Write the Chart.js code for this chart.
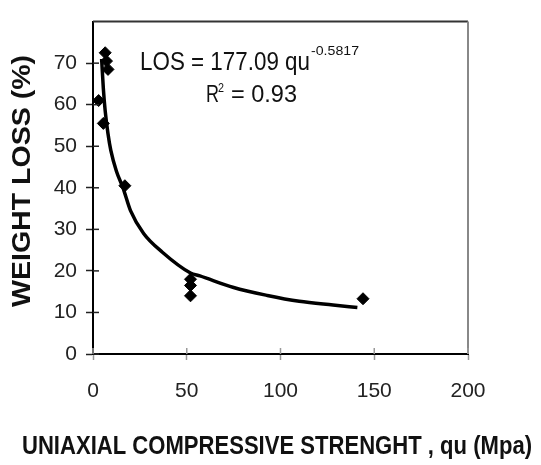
<!DOCTYPE html>
<html>
<head>
<meta charset="utf-8">
<script src="https://cdn.jsdelivr.net/npm/chart.js@4/dist/chart.umd.min.js"></script>
<style>
  html, body { margin: 0; padding: 0; background: #fff; }
</style>
</head>
<body>
<canvas id="c" width="541" height="465"></canvas>
<script>
// measured samples (qu in MPa, weight loss in %)
const qu   = [6.5, 7.2, 8.0, 3.0, 5.5, 17.0, 52.0, 52.0, 52.0, 144.0];
const loss = [72.5, 70.5, 68.5, 61.0, 55.5, 40.5, 18.0, 16.5, 14.0, 13.3];

// power trend line
const fitX = [4.6, 5.5, 6.5, 8.0, 9.5, 12.5, 16.0, 20.0, 27.0, 37.0, 52.0, 57.0, 75.0, 93.0, 110.0, 128.0, 141.0];
const fitY = [71.0, 64.0, 58.5, 53.0, 49.0, 44.0, 40.0, 34.5, 29.0, 24.5, 19.5, 18.8, 16.0, 14.1, 12.7, 11.8, 11.2];

const xTicks = [0, 50, 100, 150, 200];
const yTicks = [0, 10, 20, 30, 40, 50, 60, 70];

const eqMain = 'LOS = 177.09 qu';
const eqExp = '-0.5817';
const r2Text = '= 0.93';
const xTitle = 'UNIAXIAL COMPRESSIVE STRENGHT , qu (Mpa)';
const yTitle = 'WEIGHT LOSS (%)';

const FONT = '"Liberation Sans", Arial, sans-serif';

function points(xs, ys) {
  return xs.map((x, i) => ({ x: x, y: ys[i] }));
}

// draw text squeezed / stretched to a given width
function fitText(ctx, text, x, y, w, font) {
  ctx.font = font;
  const m = ctx.measureText(text).width;
  ctx.save();
  ctx.translate(x, y);
  ctx.scale(w / m, 1);
  ctx.textAlign = 'left';
  ctx.textBaseline = 'middle';
  ctx.fillText(text, 0, 0);
  ctx.restore();
}

const decor = {
  id: 'decor',
  afterDraw(chart) {
    const ctx = chart.ctx;
    const a = chart.chartArea;
    const xs = chart.scales.x, ys = chart.scales.y;
    ctx.save();
    // top and right frame
    ctx.lineWidth = 2;
    ctx.strokeStyle = '#333';
    ctx.beginPath(); ctx.moveTo(a.left, a.top); ctx.lineTo(a.right, a.top); ctx.stroke();
    ctx.strokeStyle = '#888';
    ctx.beginPath(); ctx.moveTo(a.right, a.top); ctx.lineTo(a.right, a.bottom); ctx.stroke();
    // inner half of the crossing ticks
    ctx.lineWidth = 1.5;
    ctx.strokeStyle = '#222';
    yTicks.forEach(v => {
      const p = ys.getPixelForValue(v);
      ctx.beginPath(); ctx.moveTo(a.left, p); ctx.lineTo(a.left + 6, p); ctx.stroke();
    });
    ctx.strokeStyle = '#999';
    xTicks.forEach(v => {
      const p = xs.getPixelForValue(v);
      ctx.beginPath(); ctx.moveTo(p, a.bottom); ctx.lineTo(p, a.bottom - 6); ctx.stroke();
    });

    ctx.fillStyle = '#111';
    // equation
    fitText(ctx, eqMain, 140, 63, 170, '25px ' + FONT);
    fitText(ctx, eqExp, 311, 51, 48, '13px ' + FONT);
    fitText(ctx, 'R', 206, 96, 13, '23px ' + FONT);
    fitText(ctx, '2', 218, 89, 6, '12px ' + FONT);
    fitText(ctx, r2Text, 231, 96, 66, '23px ' + FONT);

    // axis titles
    fitText(ctx, xTitle, 22, 447, 510, 'bold 26px ' + FONT);
    ctx.save();
    ctx.translate(23, 307);
    ctx.rotate(-Math.PI / 2);
    fitText(ctx, yTitle, 0, 0, 252, 'bold 25px ' + FONT);
    ctx.restore();
    ctx.restore();
  }
};

new Chart(document.getElementById('c'), {
  type: 'scatter',
  data: {
    datasets: [
      {
        label: 'samples',
        data: points(qu, loss),
        pointStyle: 'rectRot',
        pointRadius: 6,
        pointBackgroundColor: '#000',
        pointBorderColor: '#000',
        pointBorderWidth: 1
      },
      {
        label: 'fit',
        data: points(fitX, fitY),
        showLine: true,
        borderColor: '#000',
        borderWidth: 3.5,
        pointRadius: 0,
        cubicInterpolationMode: 'monotone'
      }
    ]
  },
  options: {
    responsive: false,
    animation: false,
    layout: { padding: { left: 0, top: 11, right: 73, bottom: 0 } },
    plugins: {
      legend: { display: false },
      tooltip: { enabled: false }
    },
    scales: {
      x: {
        type: 'linear',
        min: 0, max: 200,
        afterFit: s => { s.height = 111; },
        afterBuildTicks: s => { s.ticks = xTicks.map(v => ({ value: v })); },
        grid: { drawOnChartArea: false, tickLength: 6, tickColor: '#999', tickWidth: 1.5 },
        border: { display: true, color: '#000', width: 2 },
        ticks: { color: '#222', padding: 19, font: { family: FONT, size: 21 } }
      },
      y: {
        type: 'linear',
        min: 0, max: 80,
        afterFit: s => { s.width = 93; },
        afterBuildTicks: s => { s.ticks = yTicks.map(v => ({ value: v })); },
        grid: { drawOnChartArea: false, tickLength: 7, tickColor: '#222', tickWidth: 1.5 },
        border: { display: true, color: '#000', width: 2 },
        ticks: { color: '#222', padding: 9, font: { family: FONT, size: 21 } }
      }
    }
  },
  plugins: [decor]
});
</script>
</body>
</html>
